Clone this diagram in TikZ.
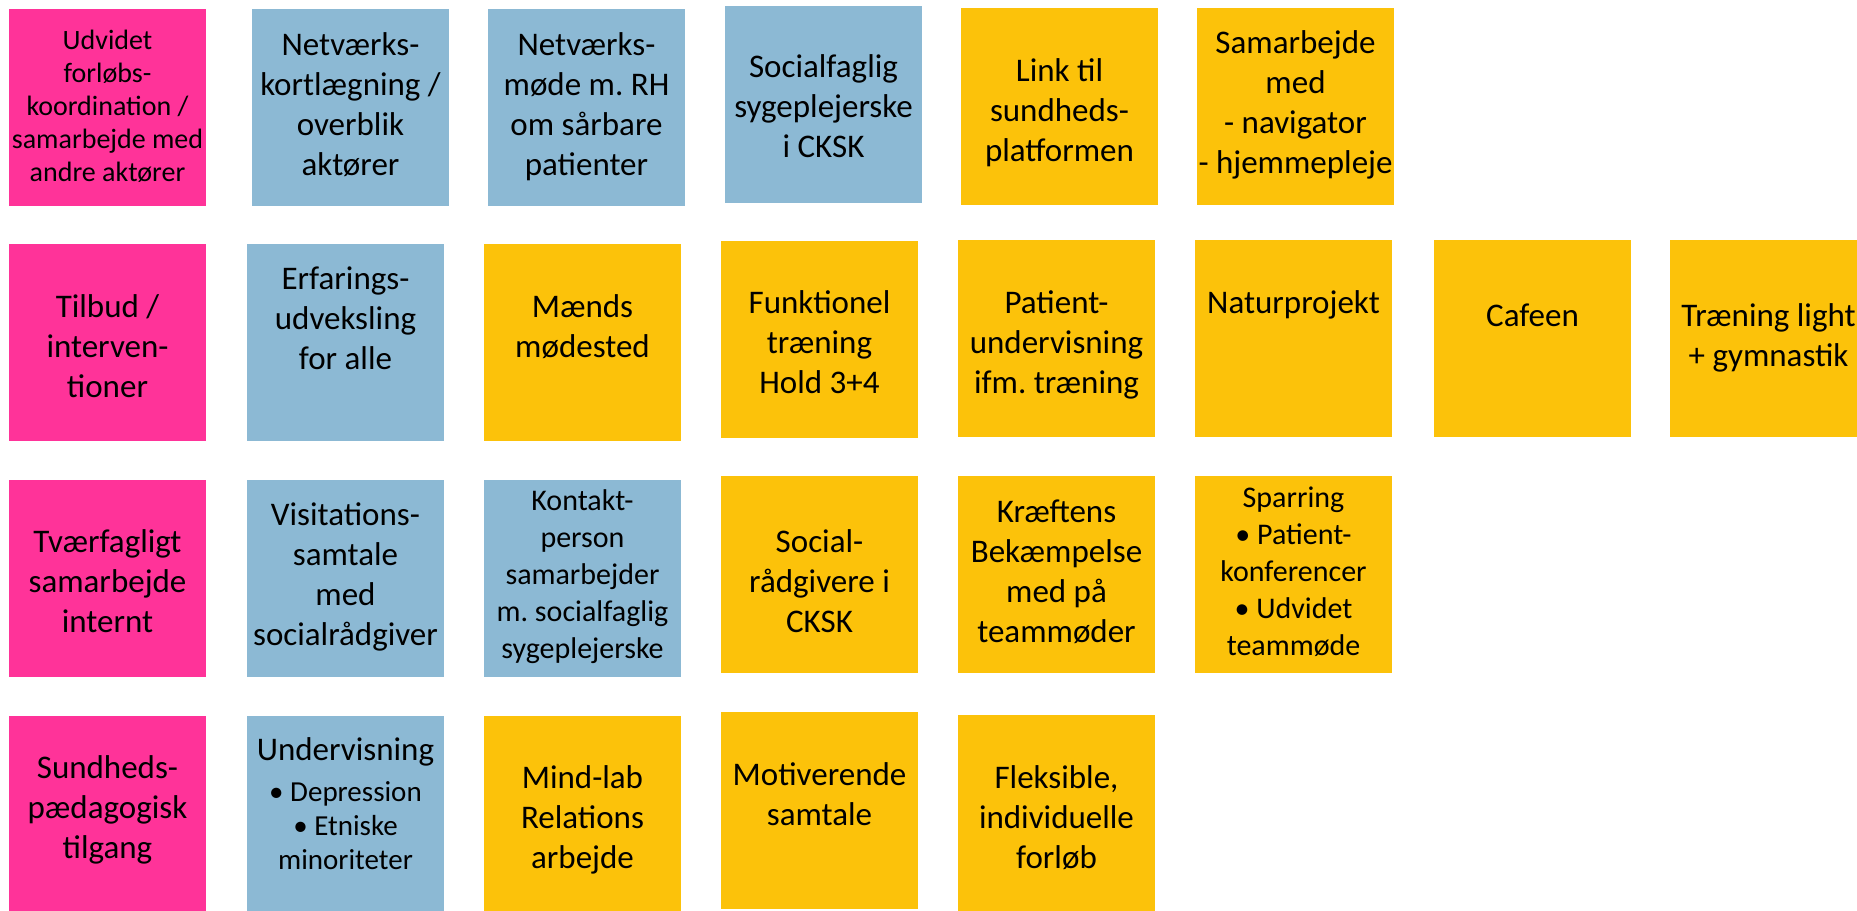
\documentclass[tikz,border=0pt]{standalone}
\usepackage{fontspec}
\setmainfont{Carlito}
\usepackage{tikz}

\definecolor{notepink}{RGB}{255,51,153}
\definecolor{noteblue}{RGB}{140,185,212}
\definecolor{noteyellow}{RGB}{252,194,10}

\newcommand{\notefont}{\fontsize{33}{40}\selectfont\frenchspacing}
\newcommand{\smallnotefont}{\fontsize{30}{37}\selectfont\frenchspacing}
\newcommand{\tinynotefont}{\fontsize{29}{34}\selectfont\frenchspacing}
\newcommand{\firstline}[1]{\dimexpr197pt-#1pt\relax}

\tikzset{
  note/.style={anchor=north west, inner sep=0pt, outer sep=0pt,
    text width=197pt, align=flush center, font=\notefont,
    text height=#1pt, text depth=\firstline{#1}},
  pinknote/.style={note=#1, fill=notepink},
  bluenote/.style={note=#1, fill=noteblue},
  yellownote/.style={note=#1, fill=noteyellow}
}

\begin{document}
\begin{tikzpicture}[x=1pt, y=-1pt]
% Canvas
\clip (0,0) rectangle (1857,910);
\fill[white] (0,0) rectangle (1857,910);

% Row 1
\node[pinknote=40, font=\fontsize{28}{33}\selectfont\frenchspacing] (udvidet) at (9,9)
  {Udvidet\\ forløbs-\\ koordination~/\\ samarbejde~med\\ andre~aktører};
\node[bluenote=46] (netkort) at (252,9) {Netværks-\\ kortlægning~/\\ overblik\\ aktører};
\node[bluenote=46] (netmoede) at (488,9) {Netværks-\\ møde m. RH\\ om sårbare\\ patienter};
\node[bluenote=71] (socsyg) at (725,6) {Socialfaglig\\ sygeplejerske\\ i CKSK};
\node[yellownote=73] (link) at (961,8) {Link til\\ sundheds-\\ platformen};
\node[yellownote=45] (samarb) at (1197,8) {Samarbejde\\ med\\ -~navigator\\ -~hjemmepleje};

% Row 2
\node[pinknote=73] (tilbud) at (9,244) {Tilbud~/\\ interven-\\ tioner};
\node[bluenote=45] (erfaring) at (247,244) {Erfarings-\\ udveksling\\ for alle};
\node[yellownote=73] (maend) at (484,244) {Mænds\\ mødested};
\node[yellownote=72] (funk) at (721,241) {Funktionel\\ træning\\ Hold 3+4};
\node[yellownote=73] (patund) at (958,240) {Patient-\\ undervisning\\ ifm. træning};
\node[yellownote=73] (natur) at (1195,240) {Naturprojekt};
\node[yellownote=86] (cafe) at (1434,240) {Cafeen};
\node[yellownote=86] (traening) at (1670,240) {Træning~light\\ +~gymnastik};

% Row 3
\node[pinknote=72] (tvaer) at (9,480) {Tværfagligt\\ samarbejde\\ internt};
\node[bluenote=45] (visit) at (247,480) {Visitations-\\ samtale\\ med\\ socialrådgiver};
\node[bluenote=30, font=\smallnotefont] (kontakt) at (484,480)
  {Kontakt-\\ person\\ samarbejder\\ m.~socialfaglig\\ sygeplejerske};
\node[yellownote=76] (socraad) at (721,476) {Social-\\ rådgivere~i\\ CKSK};
\node[yellownote=46] (kraeft) at (958,476) {Kræftens\\ Bekæmpelse\\ med~på\\ teammøder};
\node[yellownote=31, font=\smallnotefont] (sparring) at (1195,476)
  {Sparring\\ •~Patient-\\ konferencer\\ •~Udvidet\\ teammøde};

% Row 4
\node[pinknote=62] (sundped) at (9,716) {Sundheds-\\ pædagogisk\\ tilgang};
\node[bluenote=44] (underv) at (247,716)
  {Undervisning\par\vspace{7pt}{\tinynotefont •~Depression\\ •~Etniske\\ minoriteter\par}};
\node[yellownote=72] (mindlab) at (484,716) {Mind-lab\\ Relations\\ arbejde};
\node[yellownote=73] (motiv) at (721,712) {Motiverende\\ samtale};
\node[yellownote=73] (fleks) at (958,715) {Fleksible,\\ individuelle\\ forløb};

\end{tikzpicture}
\end{document}
